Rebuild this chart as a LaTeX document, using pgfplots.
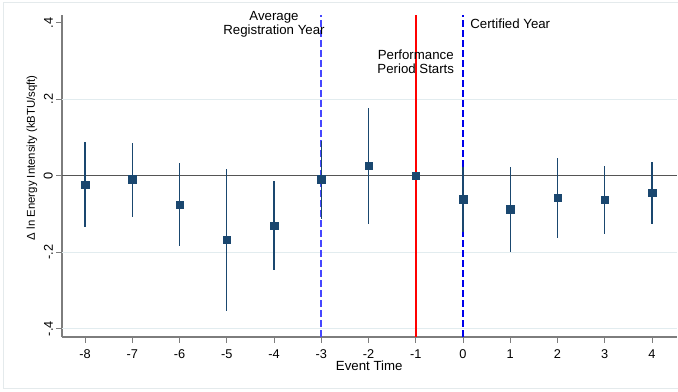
\documentclass[border=0pt]{standalone}
\usepackage{fontspec}
\setmainfont{Liberation Sans}
\usepackage{pgfplots}
\pgfplotsset{compat=1.18}
\usepackage{pgfplotstable}

\definecolor{stnavy}{RGB}{26,71,111}
\definecolor{gridc}{RGB}{226,236,239}
\definecolor{framec}{RGB}{228,234,236}
\definecolor{axisc}{RGB}{125,125,125}
\definecolor{zeroc}{RGB}{85,85,85}
\definecolor{blueA}{RGB}{70,70,255}
\definecolor{blueB}{RGB}{0,0,235}
\definecolor{redL}{RGB}{255,0,0}

\pgfplotstableread{
x y ep em
-8 -0.0225 0.1098 0.1125
-7 -0.0094 0.0957 0.0986
-6 -0.0748 0.1088 0.1098
-5 -0.1680 0.1847 0.1865
-4 -0.1307 0.1161 0.1166
-3 -0.0094 0.1009 0.1046
-2 0.0254 0.1516 0.1509
0 -0.0617 0.0852 0.0847
1 -0.0878 0.1098 0.1109
2 -0.0565 0.1035 0.1055
3 -0.0635 0.0889 0.0895
4 -0.0444 0.0802 0.0819
}\est

\begin{document}
\begin{tikzpicture}
\path[use as bounding box] (-62bp,-55bp) rectangle (616bp,337bp);
\draw[framec, line width=0.8bp] (616bp,335bp) -- (-59bp,335bp) -- (-59bp,-51bp) -- (616bp,-51bp);
\begin{axis}[
  at={(0,0)}, anchor=south west,
  scale only axis, width=614.5bp, height=322bp,
  xmin=-8.4868, xmax=4.5185, ymin=-0.4217, ymax=0.4201,
  axis lines*=left,
  axis line style={-, axisc, line width=1.1bp},
  xtick={-8,-7,-6,-5,-4,-3,-2,-1,0,1,2,3,4},
  xticklabels={-8,-7,-6,-5,-4,-3,-2,-1,0,1,2,3,4},
  ytick={-0.4,-0.2,0,0.2,0.4},
  yticklabels={-.4,-.2,0,.2,.4},
  tick align=outside,
  major tick length=5.5bp,
  tick style={axisc, line width=1bp},
  xticklabel style={font=\fontsize{12.8}{14}\selectfont, anchor=north, inner sep=0pt},
  xticklabel shift=6.8bp,
  yticklabel style={font=\fontsize{12.8}{14}\selectfont, rotate=90, anchor=south, inner sep=0pt},
  yticklabel shift=3.5bp,
  every axis x label/.style={at={([yshift=-33.7bp]axis description cs:0.5,0)}, anchor=base, font=\fontsize{13.3}{15}\selectfont},
  every axis y label/.style={at={([xshift=-30bp]axis description cs:0,0.557)}, rotate=90, anchor=center, font=\fontsize{11.4}{13}\selectfont},
  xlabel={Event Time},
  ylabel={Δ ln Energy Intensity (kBTU/sqft)},
  clip=false,
]
\addplot[draw=gridc, line width=0.9bp, forget plot] coordinates {(-8.4868,0.2)(4.5185,0.2)};
\addplot[draw=gridc, line width=0.9bp, forget plot] coordinates {(-8.4868,-0.2)(4.5185,-0.2)};
\addplot[draw=gridc, line width=0.9bp, forget plot] coordinates {(-8.4868,-0.4)(4.5185,-0.4)};
\addplot[draw=zeroc, line width=1.2bp, forget plot] coordinates {(-8.4868,0)(4.5185,0)};
\addplot[draw=blueA, line width=1.7bp, dash pattern=on 6.5bp off 3.5bp, forget plot] coordinates {(-3,-0.4217)(-3,0.4201)};
\addplot[draw=redL, line width=1.5bp, forget plot] coordinates {(-1,-0.4217)(-1,0.4201)};
\addplot[draw=blueB, line width=1.3bp, dash pattern=on 6.5bp off 3.5bp, forget plot] coordinates {(0,-0.4217)(0,0.4201)};
\addplot[only marks, mark=square*, mark size=3.65bp,
  mark options={fill=stnavy, draw=stnavy, line width=0.3bp},
  error bars/.cd, y dir=both, y explicit, error mark=none,
  error bar style={draw=stnavy, line width=1.1bp}]
  table[x=x, y=y, y error plus=ep, y error minus=em] {\est};
\addplot[only marks, mark=square*, mark size=3.65bp,
  mark options={fill=stnavy, draw=stnavy, line width=0.3bp}]
  coordinates {(-1,0)};
\node[font=\fontsize{13.3}{14}\selectfont, align=center] at (axis cs:-4,0.395) {Average\\Registration Year};
\node[font=\fontsize{13.3}{14}\selectfont, align=center] at (axis cs:-1,0.298) {Performance\\Period Starts};
\node[font=\fontsize{13.3}{14}\selectfont, align=center] at (axis cs:1,0.397) {Certified Year};
\end{axis}
\end{tikzpicture}
\end{document}
